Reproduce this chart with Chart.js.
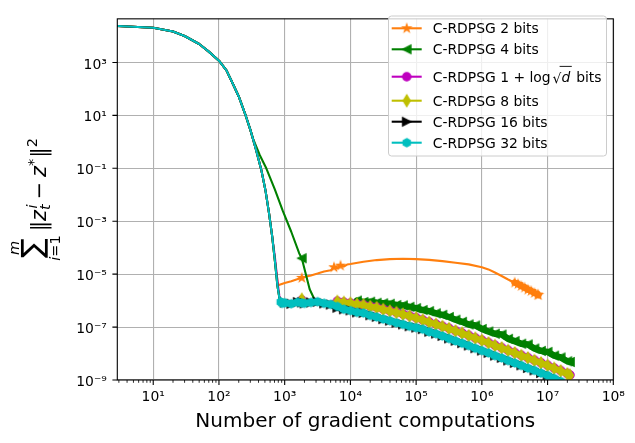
<!DOCTYPE html>
<html><head><meta charset="utf-8">
<script src="https://cdn.jsdelivr.net/npm/chart.js@4.4.1/dist/chart.umd.min.js"></script>
<style>html,body{margin:0;padding:0;background:#fff;}canvas{display:block;}</style>
</head><body>
<canvas id="c" width="635" height="443"></canvas>
<script>
// ---------------- data ----------------
const X_MIN = 2.84, X_MAX = 1e8, Y_MIN = 1e-9, Y_MAX = 4.45e4;

const xTickValues = [1e1, 1e2, 1e3, 1e4, 1e5, 1e6, 1e7, 1e8];
const xTickLabels = ['10¹', '10²', '10³', '10⁴', '10⁵', '10⁶', '10⁷', '10⁸'];
const yTickValues = [1e3, 1e1, 1e-1, 1e-3, 1e-5, 1e-7, 1e-9];
const yTickLabels = ['10³', '10¹', '10⁻¹', '10⁻³', '10⁻⁵', '10⁻⁷', '10⁻⁹'];

const seriesLabels = ['C-RDPSG 2 bits', 'C-RDPSG 4 bits', 'C-RDPSG 1 + log √d bits',
  'C-RDPSG 8 bits', 'C-RDPSG 16 bits', 'C-RDPSG 32 bits'];

// common initial descent (all runs)
const headX = [2.85, 10, 20, 30, 50, 70, 100, 130, 160, 200, 257, 300, 363, 440, 513, 580, 646, 710, 776, 830, 871, 920];
const headY = [2.4e4, 2.04e4, 1.48e4, 1.0e4, 5.0e3, 2.57e3, 1.17e3, 5.0e2, 1.7e2, 52, 9.3, 2.9, 0.55, 0.089, 0.0135, 1.9e-3, 2.6e-4, 3.2e-5, 3.6e-6, 1.26e-6, 8.9e-7, 7.9e-7];

// 2 bits (after x = 710)
const orangeX = [794, 1000, 1259, 1585, 1820, 2000, 2510, 3160, 3980, 5010, 5620, 6310, 7080, 7940, 8910,
  1.0e4, 1.58e4, 2.51e4, 3.98e4, 6.31e4, 1.0e5, 1.58e5, 2.51e5, 3.98e5, 6.31e5,
  1.0e6, 1.26e6, 1.58e6, 2.0e6, 2.51e6, 3.16e6, 3.55e6, 3.98e6, 4.47e6, 5.01e6, 5.62e6, 6.31e6, 7.08e6, 7.24e6];
const orangeY = [3.8e-6, 4.6e-6, 5.4e-6, 6.5e-6, 7.2e-6, 7.8e-6, 8.9e-6, 1.05e-5, 1.26e-5, 1.41e-5, 1.82e-5, 1.66e-5, 2.1e-5, 1.95e-5, 2.3e-5,
  2.4e-5, 2.95e-5, 3.4e-5, 3.7e-5, 3.8e-5, 3.7e-5, 3.47e-5, 3.1e-5, 2.7e-5, 2.34e-5,
  1.82e-5, 1.51e-5, 1.15e-5, 8.5e-6, 6.3e-6, 4.8e-6, 4.2e-6, 3.55e-6, 3.1e-6, 2.6e-6, 2.3e-6, 1.95e-6, 1.7e-6, 1.62e-6];

// 4 bits (after x = 257)
const greenX = [331, 417, 525, 708, 933, 1259, 1660, 1820, 2400, 2820,
  3160, 3980, 5010, 6310, 7940,
  1.0e4, 1.26e4, 1.58e4, 2.0e4, 2.51e4, 3.16e4, 3.98e4, 5.01e4, 6.31e4, 7.94e4,
  1.0e5, 1.26e5, 1.58e5, 2.0e5, 2.51e5, 3.16e5, 3.98e5, 5.01e5, 6.31e5, 7.94e5,
  1.0e6, 1.26e6, 1.58e6, 2.0e6, 2.51e6, 3.16e6, 3.98e6, 5.01e6, 6.31e6, 7.94e6,
  1.0e7, 1.26e7, 1.58e7, 2.0e7, 2.19e7];
const greenY = [1.3, 0.32, 0.1, 0.016, 2.5e-3, 4.0e-4, 6.2e-5, 4.0e-5, 2.7e-6, 1.15e-6,
  8.9e-7, 8.3e-7, 9.1e-7, 9.5e-7, 1.0e-6,
  9.3e-7, 1.0e-6, 8.9e-7, 9.1e-7, 8.3e-7, 7.9e-7, 7.6e-7, 6.8e-7, 6.6e-7, 5.8e-7,
  5.2e-7, 4.4e-7, 4.0e-7, 3.3e-7, 2.9e-7, 2.4e-7, 1.9e-7, 1.58e-7, 1.26e-7, 1.15e-7,
  8.5e-8, 6.8e-8, 5.6e-8, 5.2e-8, 3.6e-8, 2.95e-8, 2.35e-8, 2.2e-8, 1.55e-8, 1.26e-8,
  1.15e-8, 8.3e-9, 7.1e-9, 5.1e-9, 4.8e-9];

// 1 + log sqrt(d) bits (after x = 646)
const magentaX = [710, 776, 830, 871, 920,
  1.0e3, 1.26e3, 1.58e3, 1.82e3, 2.0e3, 2.51e3, 3.16e3, 3.98e3, 5.01e3, 6.31e3, 7.94e3,
  1.0e4, 1.26e4, 1.58e4, 2.0e4, 2.51e4, 3.16e4, 3.98e4, 5.01e4, 6.31e4, 7.94e4,
  1.0e5, 1.26e5, 1.58e5, 2.0e5, 2.51e5, 3.16e5, 3.98e5, 5.01e5, 6.31e5, 7.94e5,
  1.0e6, 1.26e6, 1.58e6, 2.0e6, 2.51e6, 3.16e6, 3.98e6, 5.01e6, 6.31e6, 7.94e6,
  1.0e7, 1.26e7, 1.58e7, 2.0e7, 2.19e7];
const magentaY = [4.5e-5, 5.5e-6, 1.5e-6, 9.6e-7, 8.2e-7,
  8.8e-7, 8.2e-7, 8.4e-7, 1.05e-6, 8.4e-7, 8.0e-7, 7.7e-7, 8.4e-7, 9.0e-7, 9.5e-7, 8.7e-7,
  8.1e-7, 7.4e-7, 7.0e-7, 6.1e-7, 5.6e-7, 4.75e-7, 4.15e-7, 3.6e-7, 3.1e-7, 2.7e-7,
  2.27e-7, 1.88e-7, 1.56e-7, 1.3e-7, 1.08e-7, 9.0e-8, 7.3e-8, 6.0e-8, 4.85e-8, 3.9e-8,
  3.2e-8, 2.58e-8, 2.06e-8, 1.67e-8, 1.33e-8, 1.08e-8, 8.6e-9, 7.0e-9, 5.6e-9, 4.5e-9,
  3.6e-9, 2.83e-9, 2.27e-9, 1.75e-9, 1.55e-9];

// 8 bits (after x = 920)
const yellowX = [1.0e3, 1.26e3, 1.58e3, 1.82e3, 2.0e3, 2.51e3, 3.16e3, 3.98e3, 5.01e3, 6.31e3, 7.94e3,
  1.0e4, 1.26e4, 1.58e4, 2.0e4, 2.51e4, 3.16e4, 3.98e4, 5.01e4, 6.31e4, 7.94e4,
  1.0e5, 1.26e5, 1.58e5, 2.0e5, 2.51e5, 3.16e5, 3.98e5, 5.01e5, 6.31e5, 7.94e5,
  1.0e6, 1.26e6, 1.58e6, 2.0e6, 2.51e6, 3.16e6, 3.98e6, 5.01e6, 6.31e6, 7.94e6,
  1.0e7, 1.26e7, 1.58e7, 2.0e7, 2.19e7];
const yellowY = [8.7e-7, 8.1e-7, 8.3e-7, 1.12e-6, 8.3e-7, 7.9e-7, 7.6e-7, 8.3e-7, 8.9e-7, 9.3e-7, 8.5e-7,
  7.9e-7, 7.2e-7, 6.8e-7, 5.9e-7, 5.4e-7, 4.6e-7, 4.0e-7, 3.5e-7, 3.0e-7, 2.6e-7,
  2.2e-7, 1.82e-7, 1.51e-7, 1.26e-7, 1.05e-7, 8.7e-8, 7.1e-8, 5.8e-8, 4.7e-8, 3.8e-8,
  3.1e-8, 2.5e-8, 2.0e-8, 1.62e-8, 1.29e-8, 1.05e-8, 8.3e-9, 6.8e-9, 5.4e-9, 4.4e-9,
  3.5e-9, 2.75e-9, 2.2e-9, 1.7e-9, 1.5e-9];

// 16 bits (after x = 920)
const blackX = [1.0e3, 1.26e3, 1.58e3, 1.82e3, 2.0e3, 2.51e3, 3.16e3, 3.98e3, 5.01e3, 6.31e3, 7.94e3,
  1.0e4, 1.26e4, 1.58e4, 2.0e4, 2.51e4, 3.16e4, 3.98e4, 5.01e4, 6.31e4, 7.94e4,
  1.0e5, 1.26e5, 1.58e5, 2.0e5, 2.51e5, 3.16e5, 3.98e5, 5.01e5, 6.31e5, 7.94e5,
  1.0e6, 1.26e6, 1.58e6, 2.0e6, 2.51e6, 3.16e6, 3.98e6, 5.01e6, 6.31e6, 7.94e6,
  1.0e7, 1.26e7, 1.58e7];
const blackY = [8.4e-7, 7.6e-7, 8.8e-7, 8.6e-7, 7.9e-7, 8.5e-7, 9.0e-7, 7.9e-7, 7.1e-7, 5.4e-7, 4.7e-7,
  4.3e-7, 3.6e-7, 3.45e-7, 2.8e-7, 2.45e-7, 2.0e-7, 1.76e-7, 1.46e-7, 1.27e-7, 1.08e-7,
  9.6e-8, 8.4e-8, 6.7e-8, 5.7e-8, 4.65e-8, 3.75e-8, 3.05e-8, 2.48e-8, 2.02e-8, 1.6e-8,
  1.3e-8, 1.06e-8, 8.4e-9, 6.9e-9, 5.5e-9, 4.45e-9, 3.6e-9, 2.85e-9, 2.32e-9, 1.84e-9,
  1.5e-9, 1.16e-9, 9.0e-10];

// 32 bits (after x = 920)
const cyanX = blackX.slice();
const cyanY = [8.3e-7, 7.6e-7, 8.7e-7, 8.1e-7, 7.9e-7, 8.5e-7, 9.1e-7, 7.9e-7, 7.2e-7, 6.0e-7, 4.7e-7,
  4.2e-7, 3.6e-7, 3.4e-7, 2.75e-7, 2.4e-7, 2.0e-7, 1.74e-7, 1.45e-7, 1.26e-7, 1.07e-7,
  9.5e-8, 8.3e-8, 6.6e-8, 5.6e-8, 4.6e-8, 3.7e-8, 3.0e-8, 2.45e-8, 2.0e-8, 1.58e-8,
  1.29e-8, 1.05e-8, 8.3e-9, 6.8e-9, 5.4e-9, 4.4e-9, 3.55e-9, 2.8e-9, 2.3e-9, 1.82e-9,
  1.48e-9, 1.15e-9, 8.9e-10];

// ---------------- markers ----------------
function makeMarker(color, shape) {
  const s = 18, c = document.createElement('canvas');
  c.width = s; c.height = s;
  const g = c.getContext('2d');
  g.translate(s / 2, s / 2);
  g.fillStyle = color; g.strokeStyle = color; g.lineWidth = 1.2; g.lineJoin = 'miter';
  const r = 4.17;
  g.beginPath();
  if (shape === 'star') {
    for (let i = 0; i < 10; i++) {
      const a = -Math.PI / 2 + i * Math.PI / 5, rr = i % 2 ? r * 0.382 : r;
      i ? g.lineTo(rr * Math.cos(a), rr * Math.sin(a)) : g.moveTo(rr * Math.cos(a), rr * Math.sin(a));
    }
  } else if (shape === 'left') {
    g.moveTo(-r, 0); g.lineTo(r, -r); g.lineTo(r, r);
  } else if (shape === 'right') {
    g.moveTo(r, 0); g.lineTo(-r, -r); g.lineTo(-r, r);
  } else if (shape === 'circle') {
    g.arc(0, 0, r, 0, Math.PI * 2);
  } else if (shape === 'thin_diamond') {
    const h = 5.9, w = 3.54;
    g.moveTo(0, -h); g.lineTo(w, 0); g.lineTo(0, h); g.lineTo(-w, 0);
  } else if (shape === 'hexagon') {
    for (let i = 0; i < 6; i++) {
      const a = -Math.PI / 2 + i * Math.PI / 3;
      i ? g.lineTo(r * Math.cos(a), r * Math.sin(a)) : g.moveTo(r * Math.cos(a), r * Math.sin(a));
    }
  }
  g.closePath(); g.fill(); g.stroke();
  return c;
}

const series = [
  { label: seriesLabels[0], color: '#ff7f0e', shape: 'star',
    xs: headX.slice(0, 18).concat(orangeX), ys: headY.slice(0, 18).concat(orangeY),
    markFrom: 3.1e6, markAt: [1820, 5620, 7080] },
  { label: seriesLabels[1], color: '#008000', shape: 'left',
    xs: headX.slice(0, 11).concat(greenX), ys: headY.slice(0, 11).concat(greenY),
    markFrom: 1.2e4, markAt: [1820] },
  { label: seriesLabels[2], color: '#bf00bf', shape: 'circle',
    xs: headX.slice(0, 17).concat(magentaX), ys: headY.slice(0, 17).concat(magentaY),
    markFrom: 6.0e3, markAt: [1820] },
  { label: seriesLabels[3], color: '#bfbf00', shape: 'thin_diamond',
    xs: headX.concat(yellowX), ys: headY.concat(yellowY),
    markFrom: 6.0e3, markAt: [1820] },
  { label: seriesLabels[4], color: '#000000', shape: 'right',
    xs: headX.concat(blackX), ys: headY.concat(blackY),
    markFrom: 990, markAt: [] },
  { label: seriesLabels[5], color: '#00bfbf', shape: 'hexagon',
    xs: headX.concat(cyanX), ys: headY.concat(cyanY),
    markFrom: 860, markAt: [] }
];
series.forEach(s => s.img = makeMarker(s.color, s.shape));

const xMinor = [];
for (let k = 0; k < 8; k++) for (let m = 2; m < 10; m++) {
  const v = m * Math.pow(10, k);
  if (v > X_MIN && v < X_MAX) xMinor.push(v);
}

// ---------------- custom drawing ----------------
function drawLegend(ctx) {
  const bx = 388.5, by = 16, bw = 218, bh = 140, rad = 3;
  ctx.save();
  ctx.beginPath();
  ctx.moveTo(bx + rad, by); ctx.lineTo(bx + bw - rad, by); ctx.arcTo(bx + bw, by, bx + bw, by + rad, rad);
  ctx.lineTo(bx + bw, by + bh - rad); ctx.arcTo(bx + bw, by + bh, bx + bw - rad, by + bh, rad);
  ctx.lineTo(bx + rad, by + bh); ctx.arcTo(bx, by + bh, bx, by + bh - rad, rad);
  ctx.lineTo(bx, by + rad); ctx.arcTo(bx, by, bx + rad, by, rad);
  ctx.closePath();
  ctx.fillStyle = 'rgba(255,255,255,0.8)'; ctx.fill();
  ctx.strokeStyle = '#cccccc'; ctx.lineWidth = 1; ctx.stroke();
  const rows = [28.3, 49.3, 76.7, 100.7, 121.7, 142.7];
  const F = '13.9px "DejaVu Sans"';
  series.forEach((s, i) => {
    const cy = rows[i];
    ctx.strokeStyle = s.color; ctx.lineWidth = 2.08; ctx.lineCap = 'butt';
    ctx.beginPath(); ctx.moveTo(391.7, cy); ctx.lineTo(421.7, cy); ctx.stroke();
    ctx.drawImage(s.img, 406.7 - s.img.width / 2, cy - s.img.height / 2);
    ctx.fillStyle = '#000'; ctx.textBaseline = 'alphabetic'; ctx.textAlign = 'left';
    const base = cy + 4.9;
    if (i !== 2) {
      ctx.font = F; ctx.fillText(s.label, 432.7, base);
    } else {
      let x = 432.7;
      ctx.font = F;
      const p1 = 'C-RDPSG 1 + log';
      ctx.fillText(p1, x, base); x += ctx.measureText(p1).width + 2;
      const rx = x;
      ctx.fillText('√', x, base + 1); x += ctx.measureText('√').width;
      ctx.font = 'italic ' + F; ctx.fillText('d', x, base); x += ctx.measureText('d').width + 1.5;
      ctx.strokeStyle = '#000'; ctx.lineWidth = 0.9;
      ctx.beginPath(); ctx.moveTo(rx + 7, base - 15.2); ctx.lineTo(x, base - 15.2); ctx.stroke();
      ctx.font = F; ctx.fillText(' bits', x, base);
    }
  });
  ctx.restore();
}

function drawYTitle(ctx, cyScreen) {
  const F = 20.8, S = 14.5;
  const reg = s => s + 'px "DejaVu Sans"', ita = s => 'italic ' + s + 'px "DejaVu Sans"';
  const items = [];
  let u = 0;
  ctx.save();
  ctx.font = reg(100);
  const m100 = ctx.measureText('∑');
  const h100 = m100.actualBoundingBoxAscent + m100.actualBoundingBoxDescent;
  const sumF = 100 * 27 / h100;
  ctx.font = reg(sumF);
  const ms = ctx.measureText('∑');
  const sumW = ms.width;
  ctx.font = ita(S); const wm = ctx.measureText('m').width;
  const lowParts = [['i', ita(S)], ['=', reg(S)], ['1', reg(S)]];
  let lowW = 0; lowParts.forEach(p => { ctx.font = p[1]; lowW += ctx.measureText(p[0]).width; });
  const opW = Math.max(sumW, lowW);
  const cx = opW / 2;
  items.push(['∑', reg(sumF), cx - sumW / 2, 2 - ms.actualBoundingBoxDescent]);
  items.push(['m', ita(S), cx - wm / 2, -27]);
  let lx = cx - lowW / 2;
  lowParts.forEach(p => { ctx.font = p[1]; items.push([p[0], p[1], lx, 14]); lx += ctx.measureText(p[0]).width; });
  u = opW + 4;
  const put = (t, f, v) => { ctx.font = f; items.push([t, f, u, v]); return ctx.measureText(t).width; };
  u += put('‖', reg(F), 0);
  u += put('z', ita(F), 0);
  ctx.font = ita(S);
  const wi = ctx.measureText('i').width, wt = ctx.measureText('t').width;
  items.push(['i', ita(S), u + 1.5, -9]);
  items.push(['t', ita(S), u, 4.5]);
  u += Math.max(wi + 1.5, wt) + 5;
  u += put('−', reg(F), 0) + 5;
  u += put('z', ita(F), 0);
  u += put('*', reg(S), -8) + 1;
  u += put('‖', reg(F), 0);
  u += put('2', reg(S), -9);
  const total = u;
  ctx.translate(45.5, cyScreen + total / 2);
  ctx.rotate(-Math.PI / 2);
  ctx.fillStyle = '#000'; ctx.textBaseline = 'alphabetic'; ctx.textAlign = 'left';
  items.forEach(it => { ctx.font = it[1]; ctx.fillText(it[0], it[2], it[3]); });
  ctx.restore();
}

const decoPlugin = {
  id: 'deco',
  afterDraw(chart) {
    const ctx = chart.ctx, a = chart.chartArea, xs = chart.scales.x, ys = chart.scales.y;
    ctx.save();
    ctx.strokeStyle = '#000';
    ctx.lineWidth = 0.83;
    ctx.beginPath();
    xMinor.forEach(v => { const p = xs.getPixelForValue(v); ctx.moveTo(p, a.bottom); ctx.lineTo(p, a.bottom + 2.8); });
    ctx.stroke();
    ctx.lineWidth = 1.1;
    ctx.beginPath();
    xTickValues.forEach(v => { const p = xs.getPixelForValue(v); ctx.moveTo(p, a.bottom); ctx.lineTo(p, a.bottom + 4.9); });
    yTickValues.forEach(v => { const p = ys.getPixelForValue(v); ctx.moveTo(a.left, p); ctx.lineTo(a.left - 4.9, p); });
    ctx.stroke();
    ctx.strokeRect(a.left, a.top, a.right - a.left, a.bottom - a.top);
    ctx.restore();
    drawLegend(ctx);
    drawYTitle(ctx, (a.top + a.bottom) / 2);
  }
};

// ---------------- chart ----------------
Chart.defaults.font.family = '"DejaVu Sans"';
Chart.defaults.color = '#000';

const datasets = series.map((s, i) => ({
  label: s.label,
  data: s.xs.map((x, j) => ({ x: x, y: s.ys[j] })),
  borderColor: s.color,
  backgroundColor: s.color,
  borderWidth: 2.08,
  borderJoinStyle: 'round',
  borderCapStyle: 'round',
  tension: 0,
  segment: {
    borderWidth: c => (c.p0.parsed.x >= s.markFrom * 0.99) ? 6.5 : undefined
  },
  pointStyle: s.img,
  pointRadius: ctx => {
    const x = ctx.raw && ctx.raw.x;
    if (x === undefined) return 0;
    if (x >= s.markFrom) return 4;
    return s.markAt.some(m => Math.abs(x / m - 1) < 0.005) ? 4 : 0;
  },
  pointHoverRadius: 0,
  order: series.length - i,
  clip: 0
}));

new Chart(document.getElementById('c'), {
  type: 'line',
  data: { datasets },
  options: {
    responsive: false,
    animation: false,
    events: [],
    layout: { padding: { left: 0, top: 10.7, right: 21.7, bottom: 0 } },
    plugins: { legend: { display: false }, tooltip: { enabled: false } },
    scales: {
      x: {
        type: 'logarithmic', position: 'bottom', min: X_MIN, max: X_MAX,
        afterBuildTicks: sc => { sc.ticks = xTickValues.concat(xMinor).sort((p, q) => p - q).map(v => ({ value: v })); },
        afterFit: sc => { sc.height = 63; },
        ticks: {
          autoSkip: false, maxRotation: 0, minRotation: 0, padding: 9,
          font: { size: 13.9 }, color: '#000',
          callback: v => { const k = xTickValues.indexOf(v); return k >= 0 ? xTickLabels[k] : ''; }
        },
        grid: {
          drawTicks: false, lineWidth: 1.1,
          color: c => (c.tick && xTickValues.indexOf(c.tick.value) >= 0) ? '#b0b0b0' : 'rgba(0,0,0,0)'
        },
        border: { display: false },
        title: { display: true, text: 'Number of gradient computations', font: { size: 20 }, color: '#000', padding: { top: 0, bottom: 9 } }
      },
      y: {
        type: 'logarithmic', min: Y_MIN, max: Y_MAX,
        afterBuildTicks: sc => { sc.ticks = yTickValues.map(v => ({ value: v })); },
        afterFit: sc => { sc.width = 117.3; },
        ticks: {
          autoSkip: false, padding: 10.5, labelOffset: 2.5,
          font: { size: 13.9 }, color: '#000',
          callback: v => { const k = yTickValues.indexOf(v); return k >= 0 ? yTickLabels[k] : ''; }
        },
        grid: { drawTicks: false, lineWidth: 1.1, color: '#b0b0b0' },
        border: { display: false }
      }
    }
  },
  plugins: [decoPlugin]
});
</script>
</body></html>
